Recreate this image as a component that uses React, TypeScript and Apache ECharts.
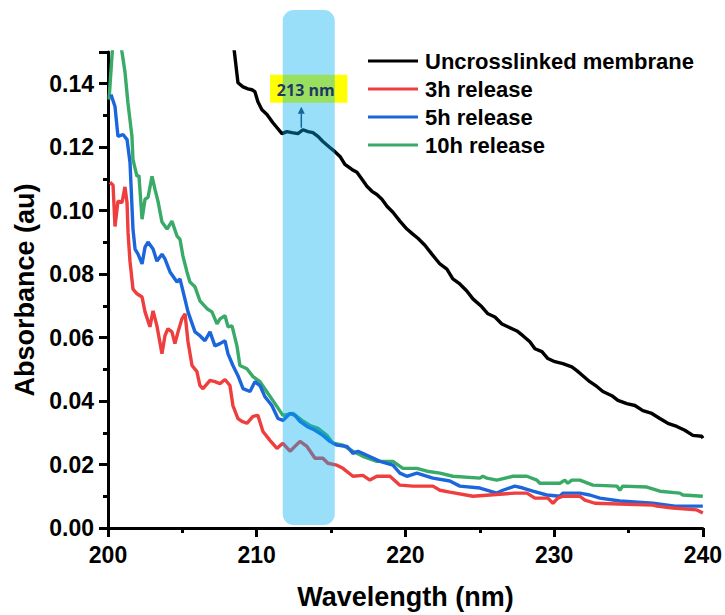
import React, { useEffect, useRef } from "react";
import * as echarts from "echarts";

const seriesNames = ["Uncrosslinked membrane", "3h release", "5h release", "10h release"];
const seriesColors = ["#000000", "#EF3E3E", "#1C66DC", "#3AAA68"];

const uncrosslinked: [number, number][] = [
  [208.45, 0.152], [208.74, 0.1403], [209.08, 0.139], [209.41, 0.1384], [209.68, 0.1381], [209.88, 0.1375],
  [210.08, 0.1343], [210.35, 0.1318], [210.69, 0.1303], [211.09, 0.1277], [211.7, 0.1243], [212.03, 0.1249],
  [212.37, 0.1246], [212.77, 0.1243], [213.11, 0.1255], [213.45, 0.1249], [213.78, 0.1246], [214.12, 0.1234],
  [214.45, 0.1218], [214.92, 0.1199], [215.26, 0.1186], [215.6, 0.1171], [215.93, 0.1146], [216.4, 0.113],
  [216.74, 0.1121], [217.08, 0.1099], [217.41, 0.1077], [217.75, 0.1061], [218.08, 0.1051], [218.42, 0.1036],
  [218.76, 0.1014], [219.16, 0.0995], [219.63, 0.0967], [220.1, 0.0942], [220.5, 0.0926], [220.84, 0.0913],
  [221.31, 0.0891], [221.78, 0.0863], [222.32, 0.0832], [222.79, 0.0816], [223.19, 0.0785], [223.66, 0.0769],
  [224.13, 0.0747], [224.54, 0.0722], [225.14, 0.0697], [225.55, 0.0675], [226.02, 0.0665], [226.49, 0.0643],
  [226.89, 0.0634], [227.5, 0.0621], [227.9, 0.0606], [228.37, 0.0587], [228.71, 0.0565], [229.18, 0.0556],
  [229.58, 0.0534], [230.05, 0.0524], [230.59, 0.0518], [231.19, 0.0508], [231.53, 0.0496], [231.93, 0.048],
  [232.4, 0.0461], [232.87, 0.0446], [233.28, 0.043], [233.88, 0.0417], [234.29, 0.0402], [234.89, 0.0392],
  [235.43, 0.0386], [235.97, 0.037], [236.57, 0.0361], [237.11, 0.0345], [237.65, 0.033], [238.25, 0.032],
  [238.79, 0.0308], [239.33, 0.0292], [239.93, 0.0289], [240.0, 0.0283],
];

const release3h: [number, number][] = [
  [200.13, 0.109], [200.34, 0.108], [200.47, 0.095], [200.67, 0.103], [200.94, 0.1025], [201.14, 0.1075],
  [201.28, 0.1025], [201.35, 0.093], [201.48, 0.084], [201.68, 0.0753], [201.95, 0.0738], [202.29, 0.0728],
  [202.49, 0.0681], [202.82, 0.0634], [203.03, 0.0684], [203.29, 0.0637], [203.63, 0.0549], [203.83, 0.0606],
  [204.03, 0.0628], [204.3, 0.0618], [204.5, 0.0581], [204.71, 0.0618], [204.97, 0.0659], [205.18, 0.0675],
  [205.38, 0.0587], [205.65, 0.0512], [205.98, 0.0493], [206.18, 0.0449], [206.39, 0.0439], [206.86, 0.0465],
  [207.19, 0.0461], [207.53, 0.0455], [207.87, 0.0468], [208.2, 0.0449], [208.4, 0.0386], [208.74, 0.0345],
  [209.01, 0.0336], [209.34, 0.033], [209.75, 0.0352], [210.08, 0.0355], [210.42, 0.0304], [210.89, 0.0276],
  [211.36, 0.0251], [211.76, 0.0267], [212.24, 0.0242], [212.91, 0.0273], [213.38, 0.0257], [213.92, 0.022],
  [214.45, 0.022], [214.79, 0.0204], [215.39, 0.0198], [215.8, 0.0188], [216.47, 0.0163], [217.14, 0.0166],
  [217.61, 0.0151], [218.08, 0.0163], [218.96, 0.0163], [219.63, 0.0135], [220.5, 0.0132], [221.85, 0.0132],
  [222.32, 0.0119], [222.99, 0.0113], [224.54, 0.01], [227.36, 0.011], [228.17, 0.011], [228.71, 0.0094],
  [229.58, 0.0094], [229.92, 0.0078], [230.25, 0.0094], [230.59, 0.01], [231.73, 0.01], [232.07, 0.0088],
  [232.74, 0.0078], [236.64, 0.0072], [236.91, 0.0069], [237.98, 0.0063], [239.6, 0.0057], [240.0, 0.0047],
];

const release5h: [number, number][] = [
  [200.2, 0.1366], [200.47, 0.1328], [200.67, 0.1234], [201.01, 0.124], [201.28, 0.1224], [201.48, 0.1152],
  [201.68, 0.0942], [201.82, 0.0879], [202.02, 0.0863], [202.29, 0.0832], [202.49, 0.0885], [202.69, 0.0901],
  [203.03, 0.0879], [203.29, 0.0841], [203.63, 0.0863], [203.83, 0.0848], [204.17, 0.0807], [204.64, 0.0775],
  [204.84, 0.0785], [205.04, 0.0747], [205.38, 0.0681], [205.85, 0.0618], [206.18, 0.0606], [206.52, 0.059],
  [206.86, 0.0618], [207.19, 0.0574], [207.53, 0.0581], [207.87, 0.059], [208.07, 0.0549], [208.4, 0.0512],
  [208.74, 0.048], [209.08, 0.0439], [209.55, 0.043], [209.88, 0.0461], [210.22, 0.0449], [210.55, 0.0414],
  [211.02, 0.0386], [211.43, 0.0345], [211.76, 0.0339], [212.24, 0.0361], [212.57, 0.0355], [212.91, 0.0336],
  [213.38, 0.032], [213.92, 0.0308], [214.45, 0.0292], [214.92, 0.0273], [215.39, 0.0261], [216.07, 0.0257],
  [216.47, 0.0235], [216.81, 0.0242], [217.41, 0.0229], [218.29, 0.021], [219.16, 0.0198], [219.63, 0.0173],
  [220.1, 0.0163], [220.77, 0.0173], [221.85, 0.0157], [222.99, 0.0148], [223.66, 0.0132], [225.01, 0.0126],
  [226.15, 0.011], [226.55, 0.0119], [227.36, 0.0132], [227.9, 0.0126], [228.57, 0.0116], [229.51, 0.0104],
  [230.39, 0.01], [230.59, 0.011], [231.73, 0.011], [232.4, 0.0104], [233.08, 0.0094], [234.42, 0.0085],
  [236.64, 0.0078], [238.12, 0.0069], [240.0, 0.0069],
];

const release10h: [number, number][] = [
  [200.07, 0.135], [200.4, 0.158], [200.75, 0.158], [200.94, 0.15], [201.14, 0.1438], [201.34, 0.134],
  [201.61, 0.1234], [201.68, 0.1161], [201.95, 0.1108], [202.08, 0.1111], [202.29, 0.0973], [202.49, 0.1036],
  [202.69, 0.1042], [202.96, 0.1108], [203.16, 0.1067], [203.36, 0.103], [203.63, 0.0964], [203.97, 0.0942],
  [204.3, 0.0967], [204.64, 0.092], [204.84, 0.091], [205.04, 0.0857], [205.31, 0.0807], [205.51, 0.0775],
  [205.85, 0.076], [206.18, 0.0716], [206.66, 0.0691], [206.99, 0.0681], [207.33, 0.0643], [207.53, 0.0659],
  [207.87, 0.0669], [208.07, 0.0634], [208.34, 0.0637], [208.67, 0.0574], [208.87, 0.0512], [209.34, 0.0502],
  [209.75, 0.0477], [210.22, 0.0461], [210.76, 0.0424], [211.23, 0.0392], [211.76, 0.0355], [212.44, 0.0361],
  [213.04, 0.0339], [213.58, 0.0323], [214.12, 0.0314], [214.72, 0.0292], [215.13, 0.0267], [215.8, 0.0261],
  [216.47, 0.0242], [217.14, 0.0226], [218.08, 0.021], [219.16, 0.021], [219.83, 0.0188], [220.77, 0.0188],
  [221.45, 0.0179], [222.32, 0.0173], [223.19, 0.0163], [225.01, 0.0157], [225.21, 0.0163], [225.48, 0.0157],
  [226.15, 0.0151], [227.23, 0.0163], [228.17, 0.0163], [228.84, 0.0151], [229.04, 0.0141], [230.39, 0.0141],
  [230.72, 0.0151], [230.92, 0.0141], [231.19, 0.0151], [231.73, 0.0151], [232.61, 0.0135], [234.22, 0.0132],
  [234.42, 0.0119], [234.62, 0.0132], [236.24, 0.0129], [237.11, 0.0116], [238.45, 0.011], [238.66, 0.0104],
  [240.0, 0.01],
];

const seriesData = [uncrosslinked, release3h, release5h, release10h];

const xTicks = { min: 200, max: 240, interval: 10 };
const yTicks = { min: 0, max: 0.15, interval: 0.02 };

// annotation: highlighted band and peak label
const bandRange = [211.75, 215.25];
const peakLabel = "213 nm";
const peakX = 213.0;
const peakY = 0.1255;
const labelBoxX = [210.9, 216.1];
const labelBoxY = [0.134, 0.1428];

const FONT = '"Liberation Sans", Arial, Helvetica, sans-serif';

export default function App() {
  const ref = useRef<HTMLDivElement>(null);
  useEffect(() => {
    if (!ref.current) return;
    const chart = echarts.init(ref.current, null, { renderer: "svg" });
    const axisLine = { show: true, lineStyle: { color: "#000", width: 3 } };
    chart.setOption({
      animation: false,
      backgroundColor: "#fff",
      grid: { left: 108, right: 22, top: 52, bottom: 85 },
      legend: {
        orient: "vertical",
        left: 363,
        top: 45,
        icon: "rect",
        itemWidth: 50,
        itemHeight: 3,
        itemGap: 6,
        selectedMode: false,
        textStyle: { fontFamily: FONT, fontWeight: "bold", fontSize: 22, color: "#000", padding: [0, 0, 0, 2] },
        data: seriesNames,
      },
      xAxis: {
        type: "value",
        min: xTicks.min,
        max: xTicks.max,
        interval: xTicks.interval,
        name: "Wavelength (nm)",
        nameLocation: "middle",
        nameGap: 55,
        nameTextStyle: { fontFamily: FONT, fontWeight: "bold", fontSize: 27, color: "#000" },
        axisLine,
        axisTick: { show: true, inside: false, length: 9, lineStyle: { width: 3, color: "#000" } },
        minorTick: { show: true, splitNumber: 2, length: 5, lineStyle: { width: 3, color: "#000" } },
        splitLine: { show: false },
        axisLabel: { margin: 15, fontFamily: FONT, fontWeight: "bold", fontSize: 23, color: "#000" },
      },
      yAxis: {
        type: "value",
        min: yTicks.min,
        max: yTicks.max,
        interval: yTicks.interval,
        name: "Absorbance (au)",
        nameLocation: "middle",
        nameGap: 66,
        nameTextStyle: { fontFamily: FONT, fontWeight: "bold", fontSize: 27, color: "#000" },
        axisLine,
        axisTick: { show: true, inside: false, length: 9, lineStyle: { width: 3, color: "#000" } },
        minorTick: { show: true, splitNumber: 2, length: 5, lineStyle: { width: 3, color: "#000" } },
        splitLine: { show: false },
        axisLabel: {
          margin: 14,
          showMaxLabel: false,
          fontFamily: FONT,
          fontWeight: "bold",
          fontSize: 23,
          color: "#000",
          formatter: (v: number) => v.toFixed(2),
        },
      },
      series: seriesNames.map((name, i) => ({
        name,
        type: "line",
        data: seriesData[i],
        symbol: "none",
        showSymbol: false,
        clip: true,
        color: seriesColors[i],
        itemStyle: { color: seriesColors[i] },
        lineStyle: { color: seriesColors[i], width: 3.4 },
        z: 2 + (i === 0 ? 0 : 4 - i),
      })),
    });

    const toPx = (x: number, y: number) => chart.convertToPixel({ gridIndex: 0 }, [x, y]) as number[];
    const [b0] = toPx(bandRange[0], 0);
    const [b1, yZero] = toPx(bandRange[1], 0);
    const [lx0, ly1] = toPx(labelBoxX[0], labelBoxY[1]);
    const [lx1, ly0] = toPx(labelBoxX[1], labelBoxY[0]);
    const [ax, ay] = toPx(peakX, peakY);
    const arrowTop = ly0 + 4;
    const navy = "#1F3864";

    chart.setOption({
      graphic: [
        {
          type: "rect",
          z: 100,
          shape: { x: lx0, y: ly1, width: lx1 - lx0, height: ly0 - ly1 },
          style: { fill: "#FFFF00" },
        },
        {
          type: "line",
          z: 101,
          shape: { x1: ax, y1: ay - 2, x2: ax, y2: arrowTop + 5 },
          style: { stroke: navy, lineWidth: 1.5 },
        },
        {
          type: "polygon",
          z: 101,
          shape: { points: [[ax, arrowTop], [ax - 3.5, arrowTop + 7], [ax + 3.5, arrowTop + 7]] },
          style: { fill: navy },
        },
        {
          type: "rect",
          z: 102,
          shape: { x: b0, y: 10, width: b1 - b0, height: yZero - 3 - 10, r: 11 },
          style: { fill: "#00B0F0", opacity: 0.4 },
        },
        {
          type: "text",
          z: 103,
          x: (lx0 + lx1) / 2 - 3,
          y: (ly0 + ly1) / 2 + 1,
          style: {
            text: peakLabel,
            fill: navy,
            font: 'bold 16px "Open Sans", "Noto Sans", sans-serif',
            align: "center",
            verticalAlign: "middle",
          },
        },
      ],
    });

    return () => chart.dispose();
  }, []);
  return (
    <div
      ref={ref}
      style={{ position: "absolute", left: 0, top: 0, width: 725, height: 615, overflow: "hidden" }}
    />
  );
}
